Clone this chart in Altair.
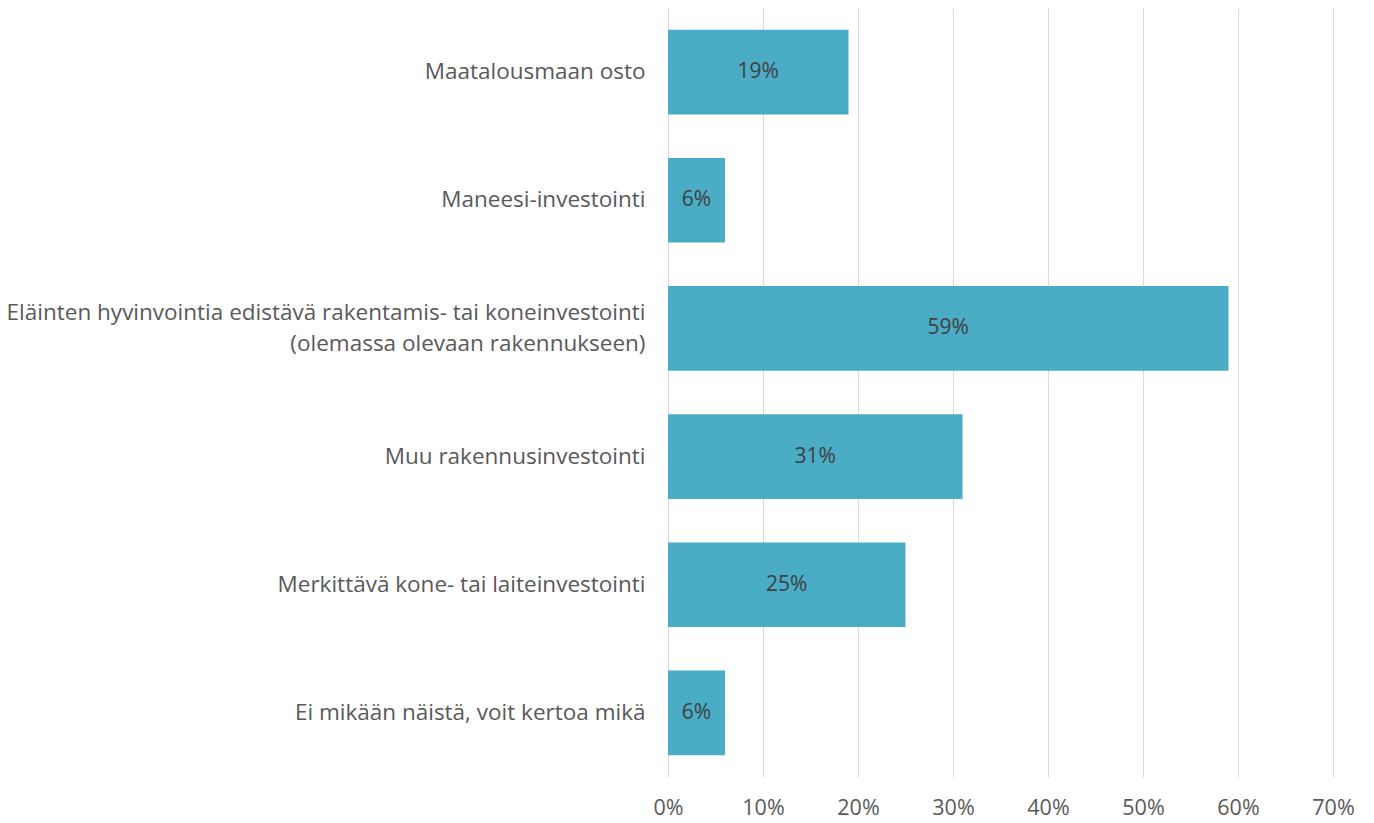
import altair as alt
import pandas as pd

categories = [
    "Maatalousmaan osto",
    "Maneesi-investointi",
    "Eläinten hyvinvointia edistävä rakentamis- tai koneinvestointi|(olemassa olevaan rakennukseen)",
    "Muu rakennusinvestointi",
    "Merkittävä kone- tai laiteinvestointi",
    "Ei mikään näistä, voit kertoa mikä",
]
values = [0.19, 0.06, 0.59, 0.31, 0.25, 0.06]
x_ticks = [0, 0.1, 0.2, 0.3, 0.4, 0.5, 0.6, 0.7]

df = pd.DataFrame({"cat": categories, "val": values})
df["half"] = df["val"] / 2
df["lbl"] = [f"{round(v*100)}%" for v in values]

FONT = "Open Sans"

y_enc = alt.Y(
    "cat:N",
    sort=categories,
    scale=alt.Scale(paddingInner=0.34, paddingOuter=0.17),
    axis=alt.Axis(
        title=None,
        domain=False,
        ticks=False,
        labelExpr="split(datum.label, '|')",
        labelFont=FONT,
        labelFontSize=22.5,
        labelColor="#595959",
        labelPadding=23,
        labelLimit=800,
        labelLineHeight=31,
        labelOffset={
            "condition": {"test": "indexof(datum.value, '|') >= 0", "value": -15},
            "value": 0,
        },
    ),
)

bars = alt.Chart(df).mark_bar(color="#4BACC6").encode(
    x=alt.X(
        "val:Q",
        scale=alt.Scale(domain=[0, 0.7], nice=False),
        axis=alt.Axis(
            title=None,
            values=x_ticks,
            format=".0%",
            domain=False,
            ticks=False,
            grid=True,
            gridColor="#D9D9D9",
            gridWidth=1,
            labelFont=FONT,
            labelFontSize=21.5,
            labelColor="#595959",
            labelPadding=20,
            labelFlush=False,
        ),
    ),
    y=y_enc,
)

text = alt.Chart(df).mark_text(
    font=FONT, fontSize=21, color="#404040", align="center", baseline="middle"
).encode(
    x=alt.X("half:Q"),
    y=alt.Y("cat:N", sort=categories),
    text="lbl:N",
)

chart = (
    alt.layer(bars, text)
    .properties(
        width=665,
        height=769,
        background="white",
        autosize=alt.AutoSizeParams(type="none"),
        padding={"left": 660, "top": 0, "right": 30, "bottom": 50},
    )
    .configure_view(strokeWidth=0, stroke=None)
)

chart.save("out.html", embed_options={"renderer": "svg", "actions": False})
